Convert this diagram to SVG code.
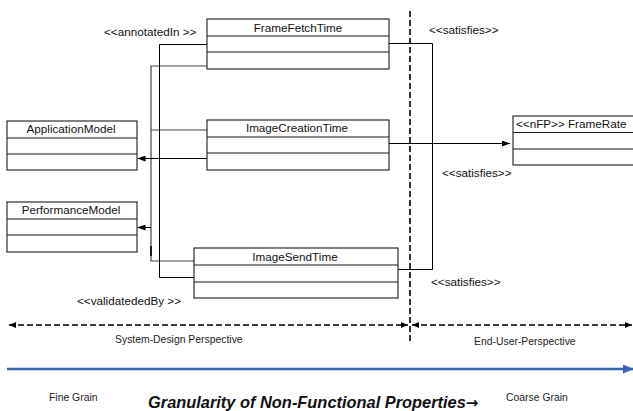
<svg xmlns="http://www.w3.org/2000/svg" width="633" height="411" viewBox="0 0 633 411">
  <style>
    .box { fill: #ffffff; stroke: #1a1a1a; stroke-width: 1.1; }
    .row { stroke: #1a1a1a; stroke-width: 1.1; }
    .name { font-family: "Liberation Sans", Arial, sans-serif; font-size: 11.7px; fill: #111; }
    .stereo { font-family: "Liberation Sans", Arial, sans-serif; font-size: 11.7px; fill: #111; }
    .small { font-family: "Liberation Sans", Arial, sans-serif; font-size: 10.4px; fill: #222; }
    .title { font-family: "Liberation Sans", Arial, sans-serif; font-size: 16.4px; font-weight: bold; font-style: italic; fill: #111; }
    .title-arrow { font-family: "DejaVu Sans", sans-serif; font-style: normal; font-weight: bold; font-size: 15px; }
    .wire { fill: none; stroke: #000; stroke-width: 1; }
    .wire-soft { fill: none; stroke: #444; stroke-width: 1.2; }
    .dash { fill: none; stroke: #000; stroke-width: 1.6; stroke-dasharray: 6 3; }
  </style>
  <defs>
    <marker id="head" viewBox="0 0 8 6" refX="8" refY="3" markerWidth="8" markerHeight="6" markerUnits="userSpaceOnUse" orient="auto">
      <path d="M0,0 L8,3 L0,6 z" fill="#000"/>
    </marker>
    <marker id="dashHead" viewBox="0 0 7 6" refX="7" refY="3" markerWidth="7" markerHeight="6" markerUnits="userSpaceOnUse" orient="auto-start-reverse">
      <path d="M0,0 L7,3 L0,6 z" fill="#000"/>
    </marker>
    <marker id="blueHead" viewBox="0 0 11 9" refX="11" refY="4.5" markerWidth="11" markerHeight="9" markerUnits="userSpaceOnUse" orient="auto">
      <path d="M0,0 L11,4.5 L0,9 z" fill="#3565ae"/>
    </marker>
  </defs>

  <!-- perspective boundary and axes -->
  <g id="axes">
    <line class="dash" x1="410" y1="11" x2="410" y2="343"/>
    <line class="dash" x1="9" y1="325" x2="408" y2="325" marker-start="url(#dashHead)" marker-end="url(#dashHead)"/>
    <line class="dash" x1="412" y1="325" x2="632" y2="325" marker-start="url(#dashHead)" marker-end="url(#dashHead)"/>
    <line x1="7" y1="369" x2="634" y2="369" stroke="#3565ae" stroke-width="2.4" marker-end="url(#blueHead)"/>
    <text class="small" x="115" y="343">System-Design Perspective</text>
    <text class="small" x="474" y="344.5">End-User-Perspective</text>
    <text class="small" x="49" y="400.5">Fine Grain</text>
    <text class="small" x="506" y="400.5">Coarse Grain</text>
    <text class="title" x="148" y="407.5">Granularity of Non-Functional Properties<tspan class="title-arrow">→</tspan></text>
  </g>

  <!-- connectors -->
  <g id="connectors">
    <polyline class="wire-soft" points="207,66 151,66 151,261 194,261"/>
    <line class="wire-soft" x1="151" y1="130" x2="207" y2="130"/>
    <line x1="151" y1="246" x2="151" y2="256" stroke="#000" stroke-width="1.6"/>
    <polyline class="wire" points="207,44.5 159.5,44.5 159.5,277.5 194,277.5"/>
    <line class="wire" x1="207" y1="158.5" x2="137.5" y2="158.5" marker-end="url(#head)"/>
    <line class="wire" x1="151" y1="227.5" x2="137.5" y2="227.5" marker-end="url(#head)"/>
    <polyline class="wire" points="389,43.5 432.5,43.5 432.5,269.5 398,269.5"/>
    <line class="wire" x1="389" y1="143.5" x2="510" y2="143.5" marker-end="url(#head)"/>
    <text class="stereo" x="104" y="36">&lt;&lt;annotatedIn &gt;&gt;</text>
    <text class="stereo" x="77" y="305">&lt;&lt;validatededBy &gt;&gt;</text>
    <text class="stereo" x="429" y="33.5">&lt;&lt;satisfies&gt;&gt;</text>
    <text class="stereo" x="442" y="177">&lt;&lt;satisfies&gt;&gt;</text>
    <text class="stereo" x="431" y="286">&lt;&lt;satisfies&gt;&gt;</text>
  </g>

  <g id="FrameFetchTime">
    <rect class="box" x="207" y="19" width="182" height="50"/>
    <line class="row" x1="207" y1="36" x2="389" y2="36"/>
    <line class="row" x1="207" y1="52" x2="389" y2="52"/>
    <text class="name" x="298" y="31.5" text-anchor="middle">FrameFetchTime</text>
  </g>

  <g id="ImageCreationTime">
    <rect class="box" x="207" y="120" width="182" height="50"/>
    <line class="row" x1="207" y1="137" x2="389" y2="137"/>
    <line class="row" x1="207" y1="153" x2="389" y2="153"/>
    <text class="name" x="297" y="131.5" text-anchor="middle">ImageCreationTime</text>
  </g>

  <g id="ImageSendTime">
    <rect class="box" x="194" y="248" width="204" height="50"/>
    <line class="row" x1="194" y1="265" x2="398" y2="265"/>
    <line class="row" x1="194" y1="282" x2="398" y2="282"/>
    <text class="name" x="295" y="261" text-anchor="middle">ImageSendTime</text>
  </g>

  <g id="ApplicationModel">
    <rect class="box" x="7" y="121" width="130" height="49"/>
    <line class="row" x1="7" y1="138" x2="137" y2="138"/>
    <line class="row" x1="7" y1="154" x2="137" y2="154"/>
    <text class="name" x="71" y="132.5" text-anchor="middle">ApplicationModel</text>
  </g>

  <g id="PerformanceModel">
    <rect class="box" x="7" y="202" width="130" height="50"/>
    <line class="row" x1="7" y1="219" x2="137" y2="219"/>
    <line class="row" x1="7" y1="235" x2="137" y2="235"/>
    <text class="name" x="71" y="213.5" text-anchor="middle">PerformanceModel</text>
  </g>

  <g id="FrameRate">
    <rect class="box" x="513" y="116" width="140" height="49"/>
    <line class="row" x1="513" y1="132.5" x2="653" y2="132.5"/>
    <line class="row" x1="513" y1="149" x2="653" y2="149"/>
    <text class="name" x="516" y="127.5">&lt;&lt;nFP&gt;&gt; FrameRate</text>
  </g>
</svg>
